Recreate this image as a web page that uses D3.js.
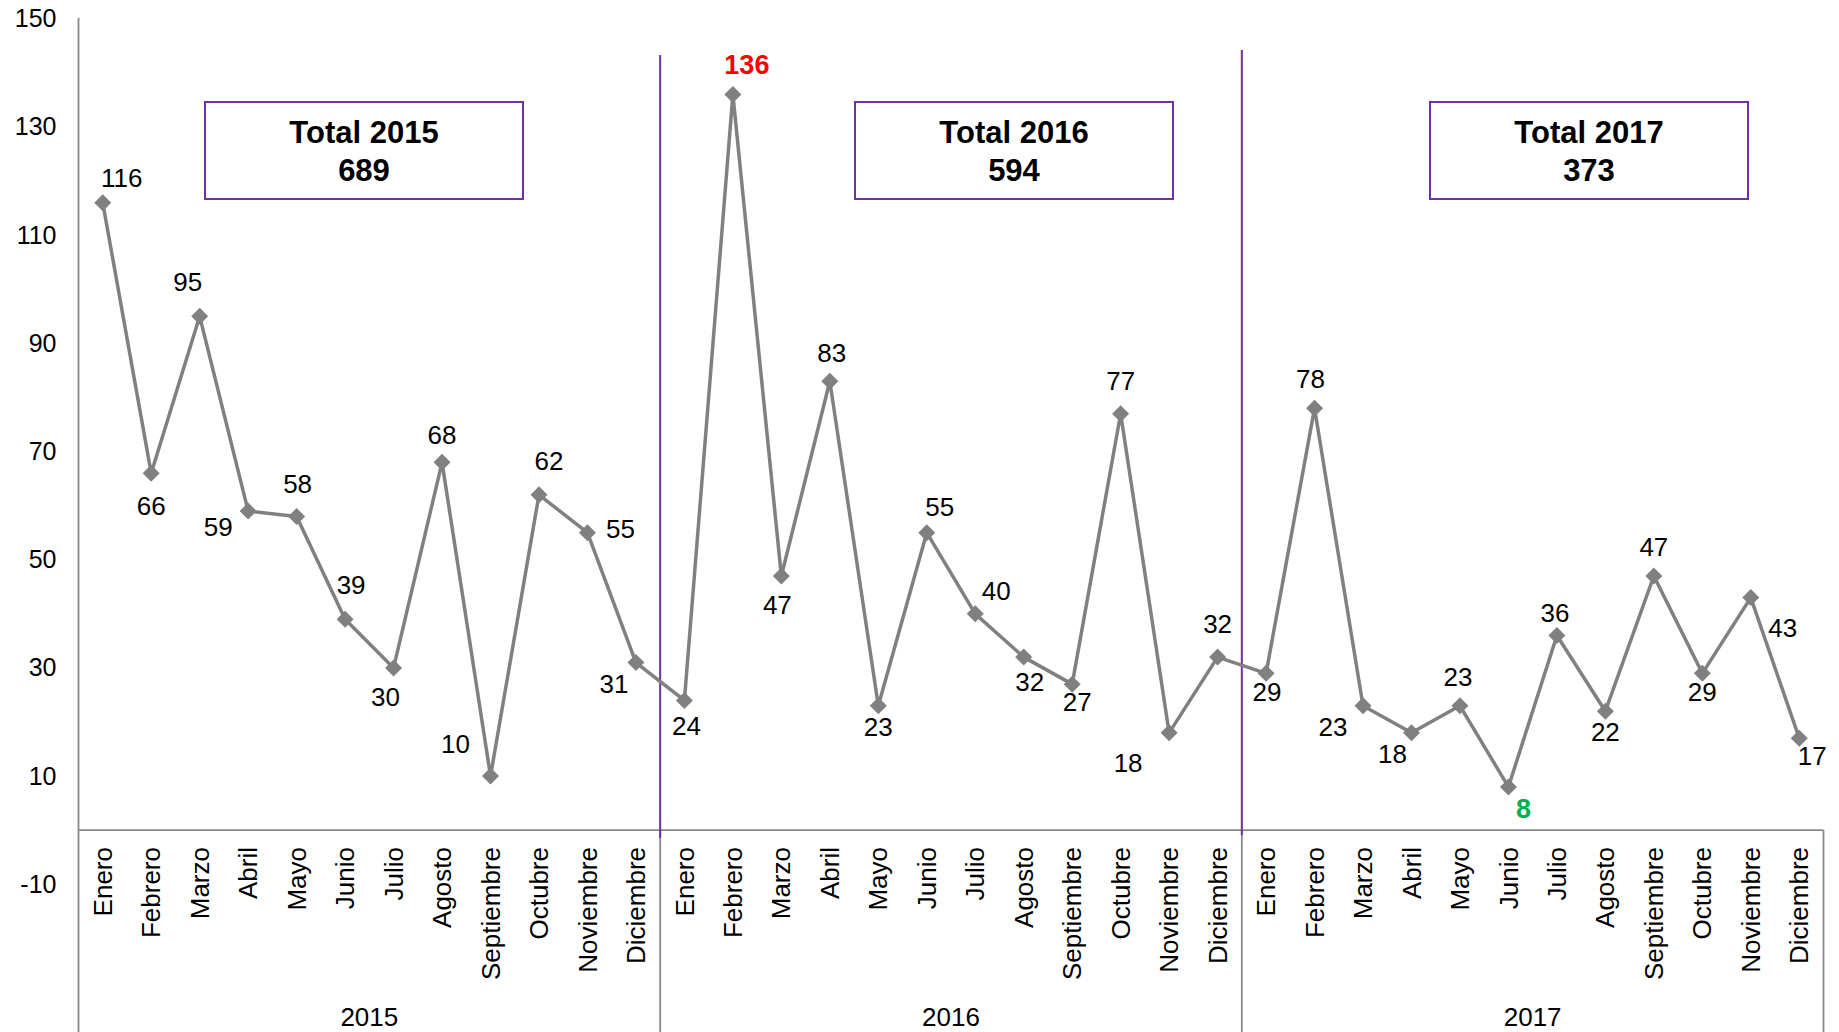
<!DOCTYPE html>
<html>
<head>
<meta charset="utf-8">
<script src="https://cdn.jsdelivr.net/npm/d3@7"></script>
<style>
  html, body { margin: 0; padding: 0; background: #fff; }
  svg { display: block; font-family: Arial, "Liberation Sans", sans-serif; }
</style>
</head>
<body>
<svg id="chart" width="1839" height="1032"></svg>
<script>
// ---------- DATA ----------
const years = ["2015", "2016", "2017"];
const months = ["Enero", "Febrero", "Marzo", "Abril", "Mayo", "Junio", "Julio",
                "Agosto", "Septiembre", "Octubre", "Noviembre", "Diciembre"];
const values2015 = [116, 66, 95, 59, 58, 39, 30, 68, 10, 62, 55, 31];
const values2016 = [24, 136, 47, 83, 23, 55, 40, 32, 27, 77, 18, 32];
const values2017 = [29, 78, 23, 18, 23, 8, 36, 22, 47, 29, 43, 17];
const yTicks = [-10, 10, 30, 50, 70, 90, 110, 130, 150];

// ---------- LAYOUT (label offsets in px, annotation boxes) ----------
const labelOffsets = [
  [19,-25],[0,33],[-12,-34],[-30,16],[1,-33],[6,-34],[-8,29],[0,-27],[-35,-32],[10,-34],[33,-4],[-22,21],
  [2,26],[14,-30],[-4,29],[2,-28],[0,21],[13,-26],[21,-23],[6,25],[5,18],[0,-33],[-41,30],[0,-33],
  [1,19],[-4,-29],[-30,21],[-19,21],[-2,-29],[15,22],[-2,-23],[0,21],[0,-29],[0,19],[32,30],[13,18]
];
const boxX = [[205, 523], [855, 1173], [1430, 1748]];
const boxY = [102, 199];

(function () {
// ---------- BUILD ----------
const allValues = [values2015, values2016, values2017];
const points = [];
allValues.forEach((arr, yi) => arr.forEach((v, mi) => {
  points.push({ i: yi * 12 + mi, year: years[yi], month: months[mi], value: v });
}));
const maxV = d3.max(points, d => d.value);
const minV = d3.min(points, d => d.value);

const svg = d3.select("#chart");
const pLeft = 78.5, pRight = 1823.5, pTop = 18.8, pBottomTick = 884.3;

const x = d3.scaleBand().domain(d3.range(points.length)).range([pLeft, pRight]).padding(0);
const y = d3.scaleLinear().domain([-10, 150]).range([pBottomTick, pTop]);
const cx = i => x(i) + x.bandwidth() / 2;

const axisColor = "#898989";
const purple = "#7030A0";

// Y axis
const yAxis = svg.append("g")
  .attr("transform", `translate(${pLeft},0)`)
  .call(d3.axisLeft(y).tickValues(yTicks).tickSize(0).tickPadding(22).tickFormat(d => String(d)));
yAxis.select(".domain").remove();
yAxis.selectAll("text").attr("font-size", 25).attr("fill", "#000")
  .attr("font-family", "Arial, 'Liberation Sans', sans-serif");

// vertical left axis line (to bottom)
svg.append("line").attr("x1", pLeft).attr("x2", pLeft).attr("y1", pTop - 1).attr("y2", 1032)
  .attr("stroke", axisColor).attr("stroke-width", 1.8);

// category axis line at 0
svg.append("line").attr("x1", pLeft).attr("x2", pRight).attr("y1", y(0)).attr("y2", y(0))
  .attr("stroke", axisColor).attr("stroke-width", 1.8);

// year separators on category axis
[12, 24, 36].forEach(k => {
  const xx = k < 36 ? x(k) : pRight;
  svg.append("line").attr("x1", xx).attr("x2", xx).attr("y1", y(0)).attr("y2", 1032)
    .attr("stroke", axisColor).attr("stroke-width", 1.8);
});

// month labels
svg.append("g").selectAll("text").data(points).join("text")
  .attr("transform", d => `translate(${cx(d.i)},847) rotate(-90)`)
  .attr("text-anchor", "end").attr("dy", "0.35em")
  .attr("font-size", 26).attr("fill", "#000")
  .text(d => d.month);

// year labels
svg.append("g").selectAll("text").data(years).join("text")
  .attr("x", (d, k) => (x(k * 12) + (k < 2 ? x((k + 1) * 12) : pRight)) / 2)
  .attr("y", 1026)
  .attr("text-anchor", "middle").attr("font-size", 26).attr("fill", "#000")
  .text(d => d);

// purple separators
[[12, 55, 838], [24, 50, 835]].forEach(([k, y1, y2]) => {
  svg.append("line").attr("x1", x(k)).attr("x2", x(k)).attr("y1", y1).attr("y2", y2)
    .attr("stroke", purple).attr("stroke-width", 2);
});

// total boxes
years.forEach((yr, k) => {
  const total = d3.sum(allValues[k]);
  const [x0, x1] = boxX[k];
  svg.append("rect").attr("x", x0).attr("y", boxY[0]).attr("width", x1 - x0).attr("height", boxY[1] - boxY[0])
    .attr("fill", "#fff").attr("stroke", purple).attr("stroke-width", 2);
  const t = svg.append("text").attr("text-anchor", "middle").attr("font-weight", "bold")
    .attr("font-size", 31).attr("fill", "#000");
  t.append("tspan").attr("x", (x0 + x1) / 2).attr("y", 143).text(`Total ${yr}`);
  t.append("tspan").attr("x", (x0 + x1) / 2).attr("y", 181).text(total);
});

// line
const line = d3.line().x(d => cx(d.i)).y(d => y(d.value));
svg.append("path").datum(points).attr("d", line)
  .attr("fill", "none").attr("stroke", "#808080").attr("stroke-width", 3.5)
  .attr("stroke-linejoin", "round");

// markers
svg.append("g").selectAll("path").data(points).join("path")
  .attr("transform", d => `translate(${cx(d.i)},${y(d.value)})`)
  .attr("d", "M0,-8.5L8.5,0L0,8.5L-8.5,0Z")
  .attr("fill", "#808080");

// data labels
svg.append("g").selectAll("text").data(points).join("text")
  .attr("x", d => cx(d.i) + labelOffsets[d.i][0])
  .attr("y", d => y(d.value) + labelOffsets[d.i][1])
  .attr("dy", "0.35em").attr("text-anchor", "middle")
  .attr("font-size", d => (d.value === maxV || d.value === minV) ? 27 : 26)
  .attr("font-weight", d => (d.value === maxV || d.value === minV) ? "bold" : "normal")
  .attr("fill", d => d.value === maxV ? "#FF0000" : (d.value === minV ? "#00B050" : "#000"))
  .text(d => d.value);
})();
</script>
</body>
</html>
